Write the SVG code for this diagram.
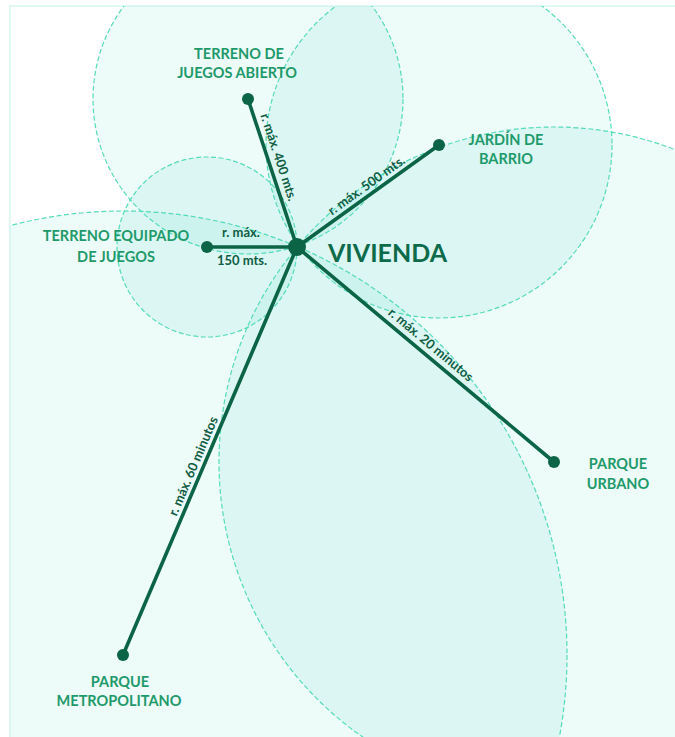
<svg xmlns="http://www.w3.org/2000/svg" width="675" height="737" viewBox="0 0 675 737">
<style>
.zone{fill:#52dcc6;fill-opacity:0.1;stroke:#55dcb8;stroke-width:1.2;stroke-dasharray:5 2.5}
.spoke{stroke:#0c6446;stroke-width:3.6;stroke-linecap:round;fill:none}
.dot{fill:#0c6446}
.lbl{font-family:Lato,"Open Sans","Liberation Sans",sans-serif;font-weight:700;font-size:14.5px;fill:#1f9a6b;text-anchor:middle}
.rad{font-family:Lato,"Open Sans","Liberation Sans",sans-serif;font-weight:700;font-size:13px;fill:#0f5d43;text-anchor:middle}
.main{font-family:Lato,"Open Sans","Liberation Sans",sans-serif;font-weight:700;font-size:25px;fill:#0d6b4b}
</style>
<defs>
<clipPath id="frame"><rect x="10" y="6" width="665" height="731"/></clipPath>
</defs>
<rect x="0" y="0" width="675" height="737" fill="#ffffff"/>
<rect x="10" y="6" width="670" height="740" fill="#ffffff" stroke="#c6f1e7" stroke-width="1"/>
<g id="zones" clip-path="url(#frame)">
<circle class="zone" cx="123" cy="655" r="444"/>
<circle class="zone" cx="554" cy="462" r="335"/>
<circle class="zone" cx="248" cy="99" r="155"/>
<circle class="zone" cx="439" cy="145" r="173"/>
<circle class="zone" cx="207" cy="247" r="90"/>
</g>
<g id="connectors">
<line class="spoke" x1="297" y1="247" x2="248" y2="99"/>
<line class="spoke" x1="297" y1="247" x2="439" y2="145"/>
<line class="spoke" x1="297" y1="247" x2="207" y2="247"/>
<line class="spoke" x1="297" y1="247" x2="554" y2="462"/>
<line class="spoke" x1="297" y1="247" x2="123" y2="655"/>
<text class="rad" transform="translate(274.5,158.5) rotate(71.7)">r. máx. 400 mts.</text>
<text class="rad" transform="translate(369,189) rotate(-35.7)">r. máx. 500 mts.</text>
<text class="rad" x="241" y="237">r. máx.</text>
<text class="rad" x="242" y="265">150 mts.</text>
<text class="rad" transform="translate(428,348) rotate(39.9)">r. máx. 20 minutos</text>
<text class="rad" transform="translate(197.3,467.9) rotate(-66.9)">r. máx. 60 minutos</text>
</g>
<g id="vivienda">
<circle class="dot" cx="297" cy="247" r="9"/>
<text class="main" x="328" y="262">VIVIENDA</text>
</g>
<g id="terreno-juegos-abierto">
<circle class="dot" cx="248" cy="99" r="6"/>
<text class="lbl" x="239" y="59">TERRENO DE</text>
<text class="lbl" x="237" y="78">JUEGOS ABIERTO</text>
</g>
<g id="jardin-barrio">
<circle class="dot" cx="439" cy="145" r="6"/>
<text class="lbl" x="506" y="145">JARDÍN DE</text>
<text class="lbl" x="506" y="164">BARRIO</text>
</g>
<g id="terreno-equipado">
<circle class="dot" cx="207" cy="247" r="6"/>
<text class="lbl" x="116" y="241">TERRENO EQUIPADO</text>
<text class="lbl" x="116" y="262">DE JUEGOS</text>
</g>
<g id="parque-urbano">
<circle class="dot" cx="554" cy="462" r="6"/>
<text class="lbl" x="618" y="469">PARQUE</text>
<text class="lbl" x="618" y="489">URBANO</text>
</g>
<g id="parque-metropolitano">
<circle class="dot" cx="123" cy="655" r="6"/>
<text class="lbl" x="120" y="687">PARQUE</text>
<text class="lbl" x="119" y="706">METROPOLITANO</text>
</g>
</svg>
